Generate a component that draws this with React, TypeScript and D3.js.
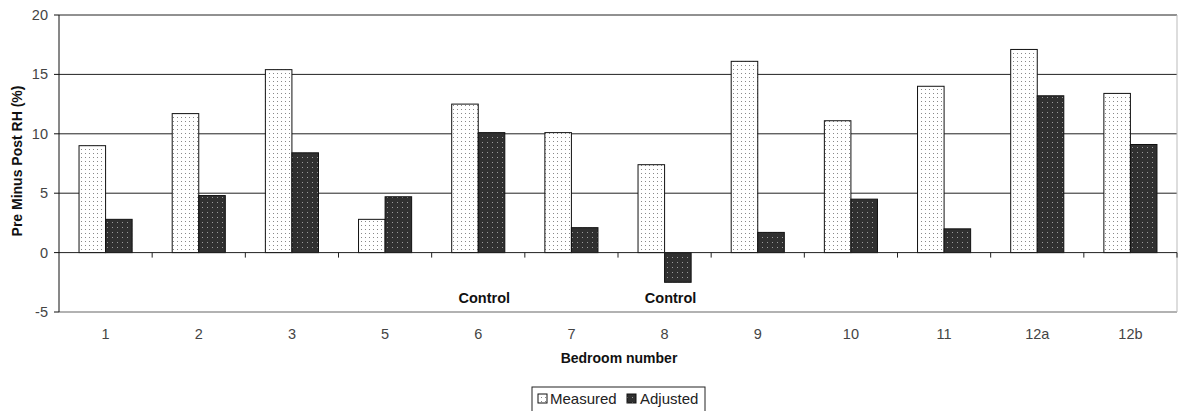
import React from "react";
import * as d3 from "d3";

const categories = ["1", "2", "3", "5", "6", "7", "8", "9", "10", "11", "12a", "12b"];
const measured = [9.0, 11.7, 15.4, 2.8, 12.5, 10.1, 7.4, 16.1, 11.1, 14.0, 17.1, 13.4];
const adjusted = [2.8, 4.8, 8.4, 4.7, 10.1, 2.1, -2.5, 1.7, 4.5, 2.0, 13.2, 9.1];
const yTicks = [-5, 0, 5, 10, 15, 20];
const controlCats = ["6", "8"];

const W = 1178;
const H = 411;
const left = 59;
const right = 1177;
const top = 15;
const bottom = 312;

export default function App() {
  const x = d3.scaleBand<string>().domain(categories).range([left, right]).paddingInner(0).paddingOuter(0);
  const y = d3.scaleLinear().domain([-5, 20]).range([bottom, top]);
  const bw = x.bandwidth();
  const barW = bw * 0.285;
  const gap = (bw - 2 * barW) / 2;
  const font = "Liberation Sans, Arial, sans-serif";

  return (
    <svg width={W} height={H} style={{ position: "absolute", left: 0, top: 0, background: "#fff" }}>
      <defs>
        <pattern id="pm" width="4" height="4" patternUnits="userSpaceOnUse">
          <rect width="4" height="4" fill="#fff" />
          <rect x="1" y="1" width="1" height="1" fill="#888" />
        </pattern>
        <pattern id="pa" width="5" height="5" patternUnits="userSpaceOnUse">
          <rect width="5" height="5" fill="#303030" />
          <rect x="2" y="2" width="1" height="1" fill="#9a9a9a" />
        </pattern>
      </defs>
      {/* gridlines */}
      {yTicks.filter((t) => t > 0).map((t) => (
        <line key={t} x1={left} x2={right} y1={y(t)} y2={y(t)} stroke="#222" strokeWidth={1} />
      ))}
      <line x1={left} x2={right} y1={y(-5)} y2={y(-5)} stroke="#999" strokeWidth={1.5} />
      <line x1={right} x2={right} y1={top} y2={bottom} stroke="#bbb" strokeWidth={1} />
      {/* bars */}
      {categories.map((c, i) => {
        const x0 = (x(c) ?? 0) + gap;
        const m = measured[i];
        const a = adjusted[i];
        return (
          <g key={c}>
            <rect x={x0} y={y(Math.max(0, m))} width={barW} height={Math.abs(y(m) - y(0))} fill="url(#pm)" stroke="#111" strokeWidth={1} />
            <rect x={x0 + barW} y={y(Math.max(0, a))} width={barW} height={Math.abs(y(a) - y(0))} fill="url(#pa)" stroke="#111" strokeWidth={1} />
          </g>
        );
      })}
      {/* zero line and ticks */}
      <line x1={left} x2={right} y1={y(0)} y2={y(0)} stroke="#222" strokeWidth={1} />
      {categories.map((c) => (
        <line key={"t" + c} x1={(x(c) ?? 0) + bw} x2={(x(c) ?? 0) + bw} y1={y(0)} y2={y(0) + 5} stroke="#222" />
      ))}
      {/* y axis */}
      <line x1={left} x2={left} y1={top} y2={bottom} stroke="#111" strokeWidth={1} />
      {yTicks.map((t) => (
        <g key={"y" + t}>
          <line x1={left - 5} x2={left} y1={y(t)} y2={y(t)} stroke="#111" />
          <text x={left - 11} y={y(t) + 5} textAnchor="end" fontSize={14.5} fontFamily={font} fill="#444">{t}</text>
        </g>
      ))}
      {/* x labels */}
      {categories.map((c) => (
        <text key={"xl" + c} x={(x(c) ?? 0) + bw / 2} y={339} textAnchor="middle" fontSize={14.5} fontFamily={font} fill="#444">{c}</text>
      ))}
      {controlCats.map((c) => (
        <text key={"c" + c} x={(x(c) ?? 0) + bw / 2 + 6} y={303} textAnchor="middle" fontSize={14.5} fontWeight="bold" fontFamily={font} fill="#111">Control</text>
      ))}
      <text x={619} y={363} textAnchor="middle" fontSize={14} fontWeight="bold" fontFamily={font} fill="#111">Bedroom number</text>
      <text transform={`translate(22,161) rotate(-90)`} textAnchor="middle" fontSize={14} fontWeight="bold" fontFamily={font} fill="#111">Pre Minus Post RH (%)</text>
      {/* legend */}
      <rect x={532} y={387} width={173} height={30} fill="#fff" stroke="#222" />
      <rect x={538} y={394} width={9} height={9} fill="url(#pm)" stroke="#111" />
      <text x={550} y={404} fontSize={15} fontFamily={font} fill="#222">Measured</text>
      <rect x={627} y={394} width={9} height={9} fill="url(#pa)" stroke="#111" />
      <text x={640} y={404} fontSize={15} fontFamily={font} fill="#222">Adjusted</text>
    </svg>
  );
}
